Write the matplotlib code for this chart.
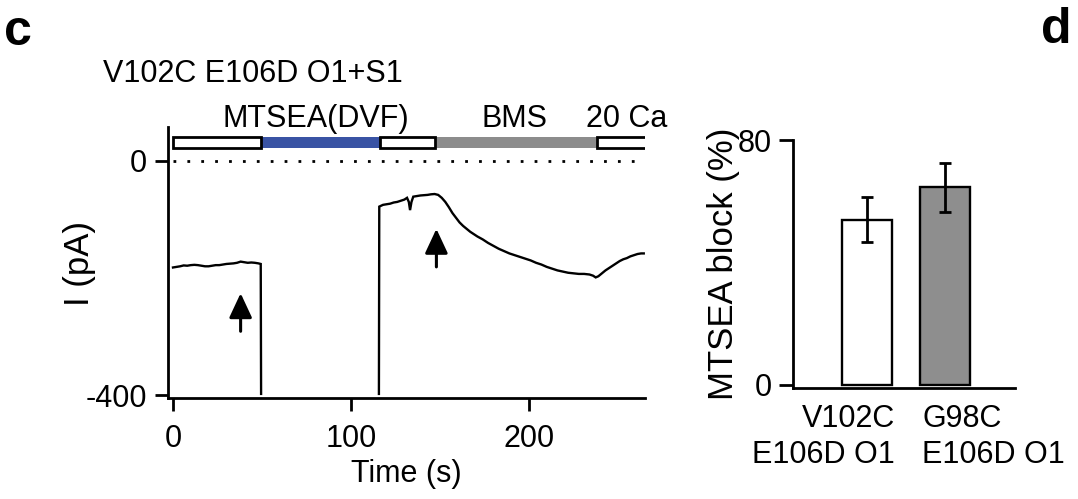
import matplotlib
matplotlib.use('Agg')
import matplotlib.pyplot as plt
from matplotlib.patches import Rectangle
from matplotlib.transforms import blended_transform_factory as btf

plt.rcParams['font.family'] = ['Liberation Sans', 'DejaVu Sans']
plt.rcParams['axes.unicode_minus'] = False

# ---------------- data: panel c (current trace) ----------------
t_seg1 = [0, 2, 4, 6, 8, 10, 12, 14, 16, 18, 20, 22, 24, 26, 28, 30, 32, 34, 36,
          38, 40, 42, 44, 46, 48, 49.3, 49.5]
i_seg1 = [-182, -181, -180, -178.5, -179, -178, -177.5, -178, -179, -180, -180,
          -179, -178, -178, -177, -176, -175.5, -175, -174, -172, -173, -174,
          -173.5, -174, -175, -176, -398]

t_seg2 = [115.7, 115.9, 118, 120, 122, 124, 126, 128, 130, 131.5, 132.5, 133.2,
          134, 135, 137, 139, 141, 143, 145, 147, 149, 151, 153, 155, 157, 159,
          161, 163, 165, 167, 169, 171, 174, 177, 180, 183, 186, 189, 192, 195,
          198, 201, 204, 207, 210, 213, 216, 219, 222, 225, 228, 231, 234, 236,
          237.5, 239, 241, 243, 245, 247, 249, 251, 253, 255, 257, 259, 261, 263,
          264.5]
i_seg2 = [-398, -78, -75, -74, -73, -71, -70, -68, -66, -63, -70, -84, -70, -61,
          -60, -59, -58.5, -58, -57, -56.5, -58, -63, -70, -79, -89, -97, -105,
          -111, -116, -121, -125, -129, -134, -140, -145, -150, -154, -158, -161,
          -164, -167, -170, -174, -177, -181, -184, -187, -189, -191, -192, -193,
          -193, -194, -196, -199, -197, -192, -187, -183, -179, -175, -171, -168,
          -166, -163, -161, -159, -158, -158]

# arrows: time, tail current, tip current
arrow_t = [38, 148]
arrow_tail = [-291, -181]
arrow_tip = [-226, -116]

# solution bars
sol_start = [0, 49.4, 116.3, 147.2, 238.2]
sol_end = [49.4, 116.3, 147.2, 238.2, 280]
sol_color = ['white', '#3953a4', 'white', '#8c8c8c', 'white']
sol_edge = [True, False, True, False, True]
sol_labels = ['MTSEA(DVF)', 'BMS', '20 Ca']
sol_label_t = [80, 192, 255]

# ---------------- data: panel d (bars) ----------------
bar_labels_line1 = ['V102C', 'G98C']
bar_labels_line2 = ['E106D O1', 'E106D O1']
bar_values = [54, 64.5]
bar_errors = [7.4, 8.0]
bar_colors = ['white', '#8e8e8e']

W, H = 1078, 499
fig = plt.figure(figsize=(W / 100, H / 100), dpi=100)


def fx(px):
    return px / W


def fy(py):
    return 1 - py / H


FS = 22
LAB = 25

# ---------------- panel c ----------------
axL = fig.add_axes([fx(168), fy(398), fx(645) - fx(168), fy(127) - fy(398)])
axL.plot(t_seg1, i_seg1, color='k', lw=1.7, solid_joinstyle='miter')
axL.plot(t_seg2, i_seg2, color='k', lw=1.7, solid_joinstyle='miter')
axL.plot([0, 263], [0, 0], color='k', lw=2, ls=(0, (1, 4)))

for s, e, c, ed in zip(sol_start, sol_end, sol_color, sol_edge):
    if not ed:
        axL.add_patch(Rectangle((s, 22), e - s, 19, facecolor=c, edgecolor='none', zorder=3))
for s, e, c, ed in zip(sol_start, sol_end, sol_color, sol_edge):
    if ed:
        axL.add_patch(Rectangle((s, 22), e - s, 19, facecolor=c, edgecolor='k', lw=2, zorder=4))

for t, a, b in zip(arrow_t, arrow_tail, arrow_tip):
    axL.annotate('', xy=(t, b), xytext=(t, a),
                 arrowprops=dict(arrowstyle='-|>,head_length=0.75,head_width=0.35',
                                 mutation_scale=20, lw=2.2, color='k',
                                 shrinkA=0, shrinkB=0))

axL.set_xlim(-2.8, 265.2)
axL.set_ylim(-405, 58)
axL.set_xticks([0, 100, 200])
axL.set_yticks([-400, 0])
axL.spines['top'].set_visible(False)
axL.spines['right'].set_visible(False)
for sp in ['left', 'bottom']:
    axL.spines[sp].set_linewidth(2)
axL.tick_params(axis='both', direction='out', length=9.5, width=2, labelsize=FS)
axL.tick_params(axis='x', pad=9)
axL.tick_params(axis='y', pad=5.5)

trL = btf(axL.transData, fig.transFigure)
for lab, t in zip(sol_labels, sol_label_t):
    fig.text(t, fy(127), lab, transform=trL, ha='center', va='baseline', fontsize=FS)

fig.text(fx(103), fy(82), 'V102C E106D O1+S1', ha='left', va='baseline', fontsize=FS)
fig.text(fx(406), fy(482), 'Time (s)', ha='center', va='baseline', fontsize=FS)
fig.text(fx(89), fy(263), 'I (pA)', ha='center', va='baseline', rotation=90,
         rotation_mode='anchor', fontsize=LAB)
fig.text(fx(4), fy(45), 'c', ha='left', va='baseline', fontsize=36, fontweight='bold')

# ---------------- panel d ----------------
axR = fig.add_axes([fx(793), fy(388), fx(1015) - fx(793), fy(140) - fy(388)])
xpos = list(range(len(bar_values)))
axR.bar(xpos, bar_values, width=0.63, color=bar_colors, edgecolor='k', lw=1.7,
        yerr=bar_errors, capsize=4.3,
        error_kw=dict(elinewidth=2, capthick=2, ecolor='k'))
axR.set_xlim(-0.9487, 1.897)
axR.set_ylim(-0.98, 80)
axR.set_yticks([0, 80])
axR.set_xticks([])
axR.spines['top'].set_visible(False)
axR.spines['right'].set_visible(False)
for sp in ['left', 'bottom']:
    axR.spines[sp].set_linewidth(2)
axR.tick_params(axis='y', direction='out', length=10, width=2, labelsize=FS, pad=5)

trR = btf(axR.transData, fig.transFigure)
offsets = [0.359, -0.295]
aligns = ['right', 'left']
for i, (l1, l2) in enumerate(zip(bar_labels_line1, bar_labels_line2)):
    fig.text(xpos[i] + offsets[i], fy(427), l1, transform=trR, ha=aligns[i],
             va='baseline', fontsize=FS)
    fig.text(xpos[i] + offsets[i], fy(463), l2, transform=trR, ha=aligns[i],
             va='baseline', fontsize=FS)

fig.text(fx(733), fy(264), 'MTSEA block (%)', ha='center', va='baseline', rotation=90,
         rotation_mode='anchor', fontsize=LAB)
fig.text(fx(1041), fy(43), 'd', ha='left', va='baseline', fontsize=36, fontweight='bold')

fig.savefig('out.png', dpi=100)
